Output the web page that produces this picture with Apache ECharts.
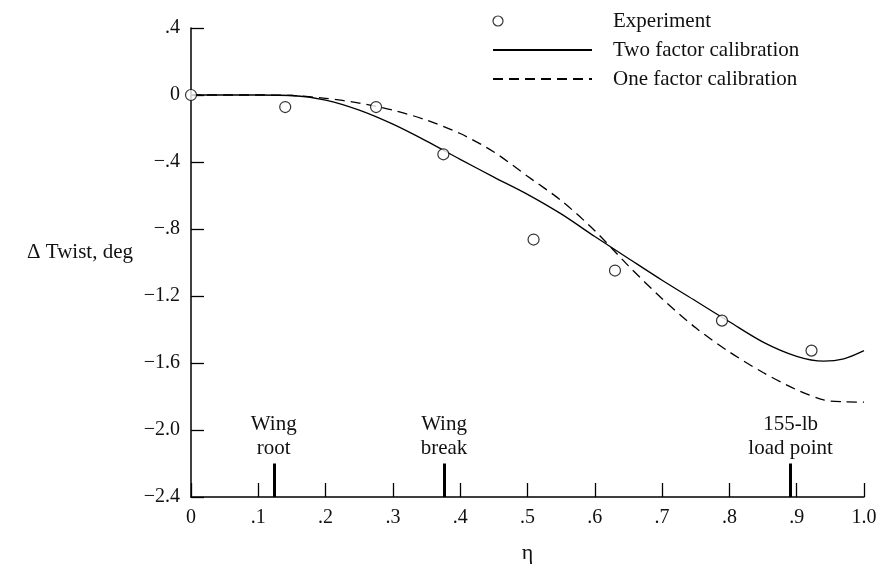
<!DOCTYPE html>
<html><head><meta charset="utf-8">
<script src="https://cdn.jsdelivr.net/npm/echarts@6/dist/echarts.min.js"></script>
<style>html,body{margin:0;padding:0;background:#fff}#c{width:882px;height:566px}</style>
</head><body><div id="c"></div>
<script>
// ---- data ----
const seriesNames = ['Experiment', 'Two factor calibration', 'One factor calibration'];
const expEta   = [0, 0.140, 0.275, 0.375, 0.509, 0.630, 0.789, 0.922];
const expTwist = [0, -0.072, -0.072, -0.354, -0.863, -1.048, -1.347, -1.526];
const curveEta       = [0, 0.05, 0.10, 0.15, 0.20, 0.25, 0.30, 0.35, 0.40, 0.45, 0.50, 0.55, 0.60, 0.65, 0.70, 0.75, 0.80, 0.85, 0.90, 0.94, 0.97, 1.00];
const twoFactorTwist = [0, 0, 0, -0.003, -0.03, -0.09, -0.174, -0.275, -0.384, -0.49, -0.593, -0.71, -0.845, -0.976, -1.106, -1.23, -1.354, -1.475, -1.56, -1.589, -1.575, -1.526];
const oneFactorTwist = [0, 0, 0, -0.003, -0.02, -0.048, -0.09, -0.15, -0.23, -0.34, -0.485, -0.63, -0.81, -1.02, -1.216, -1.39, -1.534, -1.657, -1.76, -1.82, -1.832, -1.834];
const markerEta    = [0.123, 0.376, 0.891];
const markerLabels = ['Wing\nroot', 'Wing\nbreak', '155-lb\nload point'];
const markerTop    = -2.2;
const xTickLabels  = ['0', '.1', '.2', '.3', '.4', '.5', '.6', '.7', '.8', '.9', '1.0'];
const yTickLabels  = ['\u22122.4', '\u22122.0', '\u22121.6', '\u22121.2', '\u2212.8', '\u2212.4', '0', '.4'];
const xName = '\u03b7';
const yName = '\u0394 Twist, deg';

// ---- chart ----
const FONT = "'Liberation Serif', 'Times New Roman', serif";
const INK = '#111';
const yMin = -2.4, yMax = 0.4, yStep = 0.4;
const xMin = 0, xMax = 1, xStep = 0.1;

const chart = echarts.init(document.getElementById('c'), null, { renderer: 'canvas' });
const zip = (a, b) => a.map((v, i) => [v, b[i]]);

chart.setOption({
  animation: false,
  backgroundColor: '#fff',
  color: ['#000', '#000', '#000', '#000'],
  textStyle: { fontFamily: FONT, color: INK },
  grid: { left: 191, right: 18, top: 28, bottom: 69, containLabel: false, outerBoundsMode: 'none' },
  legend: {
    orient: 'vertical', left: 492, top: 10, padding: 0,
    itemWidth: 99, itemHeight: 14, itemGap: 7,
    selectedMode: false,
    textStyle: { fontFamily: FONT, fontSize: 21, lineHeight: 22, color: INK, padding: [0, 0, 0, 16] },
    data: [
      { name: seriesNames[0], icon: 'path://M0,7a5,5 0 1,0 10,0a5,5 0 1,0 -10,0M99,0M99,14',
        itemStyle: { color: '#fff', borderColor: '#000', borderWidth: 1.2 } },
      { name: seriesNames[1], itemStyle: { opacity: 0 } },
      { name: seriesNames[2], itemStyle: { opacity: 0 } }
    ]
  },
  xAxis: {
    type: 'value', min: xMin, max: xMax, interval: xStep,
    name: xName, nameLocation: 'middle', nameGap: 45,
    nameTextStyle: { fontFamily: FONT, fontSize: 22, color: INK },
    axisLine: { show: true, onZero: false, lineStyle: { color: '#000', width: 1.5 } },
    axisTick: { show: true, inside: true, length: 14, lineStyle: { color: '#000', width: 1.3 } },
    axisLabel: { margin: 11, fontFamily: FONT, fontSize: 20, color: INK,
      formatter: v => xTickLabels[Math.round((v - xMin) / xStep)] },
    splitLine: { show: false }
  },
  yAxis: {
    type: 'value', min: yMin, max: yMax, interval: yStep,
    name: yName, nameLocation: 'middle', nameRotate: 0, nameGap: 58,
    nameTextStyle: { fontFamily: FONT, fontSize: 21, color: INK, verticalAlign: 'bottom' },
    axisLine: { show: true, onZero: false, lineStyle: { color: '#000', width: 1.5 } },
    axisTick: { show: true, inside: true, length: 13, lineStyle: { color: '#000', width: 1.3 } },
    axisLabel: { margin: 11, fontFamily: FONT, fontSize: 20, color: INK,
      formatter: v => yTickLabels[Math.round((v - yMin) / yStep)] },
    splitLine: { show: false }
  },
  series: [
    {
      name: seriesNames[0], type: 'scatter', data: zip(expEta, expTwist),
      symbol: 'circle', symbolSize: 11, clip: false, z: 5,
      itemStyle: { color: '#fff', borderColor: '#000', borderWidth: 1.2 },
      emphasis: { disabled: true }
    },
    {
      name: seriesNames[1], type: 'line', data: zip(curveEta, twoFactorTwist),
      symbol: 'none', smooth: 0.3, z: 3,
      itemStyle: { color: '#000' },
      lineStyle: { color: '#000', width: 1.3, type: 'solid' },
      emphasis: { disabled: true }
    },
    {
      name: seriesNames[2], type: 'line', data: zip(curveEta, oneFactorTwist),
      symbol: 'none', smooth: 0.3, z: 3,
      itemStyle: { color: '#000' },
      lineStyle: { color: '#000', width: 1.3, type: [10, 6] },
      emphasis: { disabled: true }
    },
    {
      name: 'markers', type: 'line', data: [], silent: true,
      markLine: {
        silent: true, symbol: ['none', 'none'], animation: false,
        lineStyle: { color: '#000', width: 3, type: 'solid' },
        label: { show: true, position: 'end', distance: 3, fontFamily: FONT, fontSize: 21, lineHeight: 24, color: INK, align: 'center' },
        emphasis: { disabled: true },
        data: markerEta.map((x, i) => [
          { coord: [x, yMin], label: { formatter: markerLabels[i] } },
          { coord: [x, markerTop] }
        ])
      }
    }
  ]
});
</script>
</body></html>
